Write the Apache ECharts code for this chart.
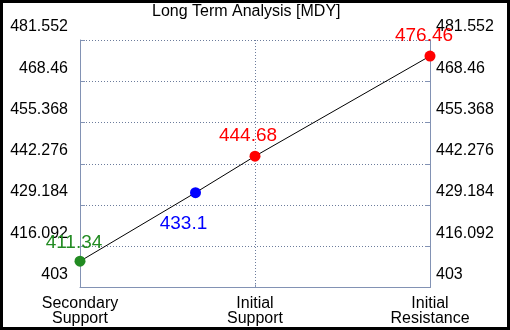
<!DOCTYPE html>
<html>
<head>
<meta charset="utf-8">
<script src="https://cdn.jsdelivr.net/npm/echarts@6/dist/echarts.min.js"></script>
<style>
  html, body { margin: 0; padding: 0; background: #000; }
  #chart { width: 504px; height: 324px; border: 3px solid #000; background: #fff; }
</style>
</head>
<body>
<div id="chart"></div>
<script>
const categories = ["Secondary\nSupport", "Initial\nSupport", "Initial\nResistance"];
const pointNames = ["Secondary Support", "Current", "Initial Support", "Initial Resistance"];
const xPositions = [0, 0.66, 1, 2];
const values = [411.34, 433.1, 444.68, 476.46];
const pointColors = ["#228b22", "#0000ff", "#ff0000", "#ff0000"];
const yMin = 403;
const yMax = 481.552;
const yStep = 13.092;

const font = "Liberation Sans, Arial, sans-serif";
const axisColor = "#8292b4";
const gridColor = "#6c7c9c";

const labelOffsets = [[-6, 2], [-12, 11], [-7, 0], [-6, 0]];
const labelPos = ["top", "bottom", "top", "top"];

const chart = echarts.init(document.getElementById("chart"));

const yAxisBase = {
  type: "value",
  min: yMin,
  max: yMax,
  interval: yStep,
  axisLine: { show: true, lineStyle: { color: axisColor, width: 1 } },
  axisTick: { show: true, inside: true, length: 5, lineStyle: { color: axisColor } },
  splitLine: { show: false },
  axisLabel: {
    color: "#000",
    fontFamily: font,
    fontSize: 16,
    verticalAlign: "bottom",
    lineHeight: 26,
    formatter: (v) => String(parseFloat(v.toFixed(3))),
  },
};

chart.setOption({
  animation: false,
  backgroundColor: "#fff",
  title: {
    text: "Long Term Analysis [MDY]",
    left: 144,
    top: -4,
    textStyle: { fontFamily: font, fontSize: 16, fontWeight: "normal", color: "#000" },
  },
  grid: { left: 77, right: 77, top: 37, bottom: 37 },
  xAxis: {
    type: "value",
    min: 0,
    max: 2,
    interval: 1,
    axisLine: { show: true, onZero: false, lineStyle: { color: axisColor } },
    axisTick: { show: true, inside: true, length: 3, lineStyle: { color: axisColor } },
    splitLine: { show: true, lineStyle: { color: gridColor, type: [1, 2], width: 1 } },
    axisLabel: {
      color: "#000",
      fontFamily: font,
      fontSize: 16,
      lineHeight: 15,
      margin: 9,
      formatter: (v) => categories[Math.round(v)] || "",
    },
  },
  yAxis: [
    Object.assign({}, yAxisBase, {
      position: "left",
      axisLabel: Object.assign({}, yAxisBase.axisLabel, { margin: 12 }),
      splitLine: { show: true, lineStyle: { color: gridColor, type: [1, 2], width: 1 } },
    }),
    Object.assign({}, yAxisBase, {
      position: "right",
      axisLabel: Object.assign({}, yAxisBase.axisLabel, { margin: 6 }),
    }),
  ],
  series: [
    {
      type: "line",
      data: xPositions.map((x, i) => [x, values[i]]),
      showSymbol: false,
      symbol: "none",
      lineStyle: { color: "#000", width: 1 },
      z: 2,
    },
    {
      type: "scatter",
      symbolSize: 11,
      z: 3,
      data: xPositions.map((x, i) => ({
        name: pointNames[i],
        value: [x, values[i]],
        itemStyle: { color: pointColors[i], opacity: 1 },
        label: {
          show: true,
          position: labelPos[i],
          offset: labelOffsets[i],
          color: pointColors[i],
          fontFamily: font,
          fontSize: 19,
          formatter: String(values[i]),
        },
      })),
    },
  ],
});
</script>
</body>
</html>
